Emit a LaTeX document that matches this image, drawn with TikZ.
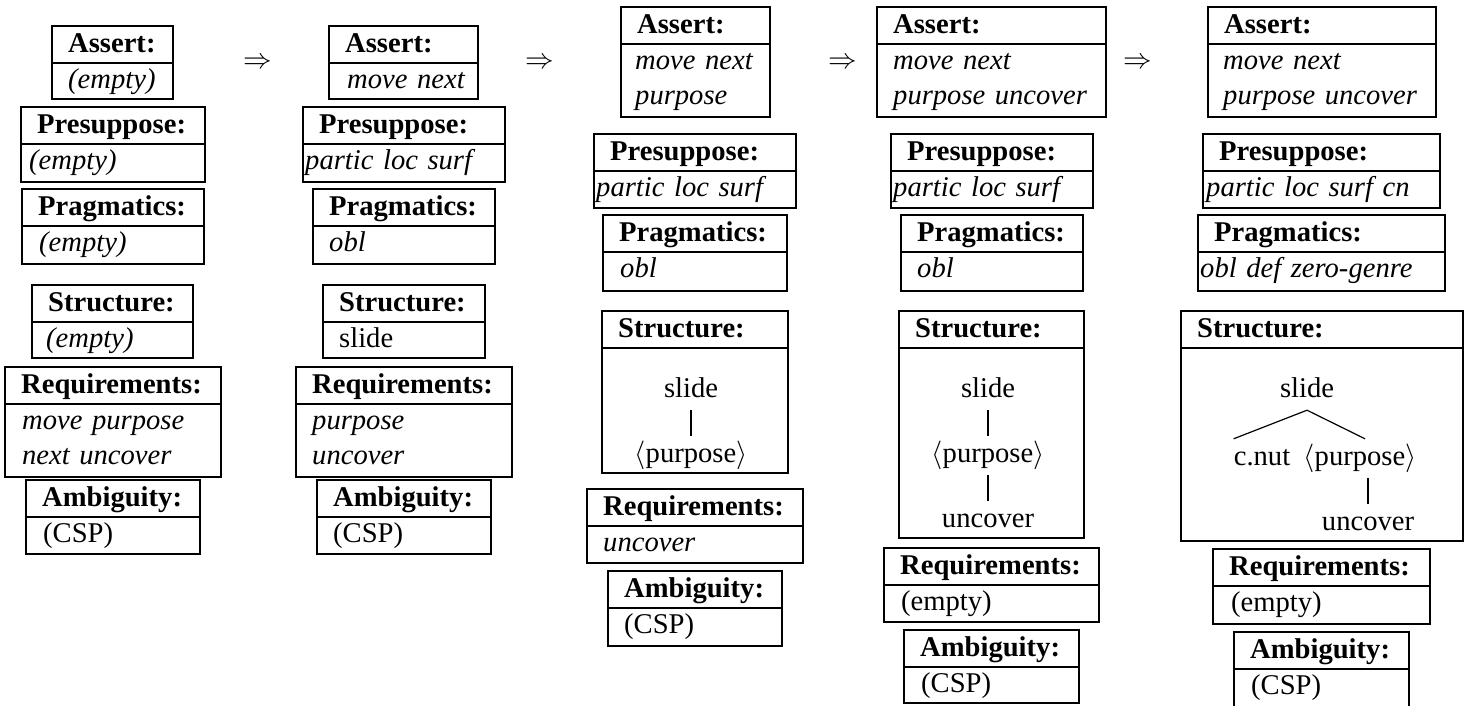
\RequirePackage{fix-cm}
\documentclass[tikz,border=0pt]{standalone}
\usepackage{fontspec}
\setmainfont{Liberation Serif}
\tikzset{
  boxline/.style={line width=2pt},
  headtext/.style={anchor=base west,inner sep=0pt,font=\bfseries},
  bodytext/.style={anchor=base west,inner sep=0pt,text width=240pt,align=left},
  tnode/.style={anchor=base,inner xsep=0pt,inner ysep=6pt,text height=20pt,text depth=7pt},
  tbar/.style={line width=2.8pt},
  tline/.style={line width=1.2pt}
}
\newcommand{\featbox}[8]{%
  \draw[boxline] (#2,#4) rectangle (#3,#5) (#2,#4+37) -- (#3,#4+37);
  \node[headtext] (#1h) at (#2+16,#4+26) {#6};
  \node[bodytext] (#1b) at (#2+#8,#4+62) {#7};
}
\begin{document}
\fontsize{28.6}{35}\selectfont
\begin{tikzpicture}[x=1pt,y=-1pt]
\useasboundingbox (0,0) rectangle (1472,705);
\clip (0,0) rectangle (1472,705);
\foreach \x/\n in {258/1,540/2,843/3,1138/4}
  \node (to\n) at (\x,63) {$\Rightarrow$};
\featbox{aas}{52}{173}{26}{99}{Assert:}{\textit{(empty)}}{16}
\featbox{apr}{21}{205}{107}{182}{Presuppose:}{\textit{(empty)}}{8}
\featbox{apg}{22}{204}{189}{264}{Pragmatics:}{\textit{(empty)}}{17}
\featbox{ast}{32}{193}{285}{358}{Structure:}{\textit{(empty)}}{14}
\featbox{arq}{5}{221}{367}{477}{Requirements:}{\textit{move purpose}\\\textit{next uncover}}{17}
\featbox{aam}{26}{200}{480}{554}{Ambiguity:}{(CSP)}{17}
\featbox{bas}{329}{478}{26}{99}{Assert:}{\textit{move next}}{18}
\featbox{bpr}{303}{505}{107}{182}{Presuppose:}{\textit{partic loc surf}}{2}
\featbox{bpg}{313}{495}{189}{264}{Pragmatics:}{\textit{obl}}{16}
\featbox{bst}{323}{485}{285}{358}{Structure:}{slide}{16}
\featbox{brq}{296}{512}{367}{477}{Requirements:}{\textit{purpose}\\\textit{uncover}}{16}
\featbox{bam}{317}{491}{480}{554}{Ambiguity:}{(CSP)}{16}
\featbox{cas}{621}{770}{7}{117}{Assert:}{\textit{move next}\\\textit{purpose}}{14}
\featbox{cpr}{594}{796}{134}{208}{Presuppose:}{\textit{partic loc surf}}{2}
\featbox{cpg}{603}{787}{215}{291}{Pragmatics:}{\textit{obl}}{17}
\featbox{cst}{602}{788}{311}{473}{Structure:}{}{16}
\featbox{crq}{587}{803}{489}{563}{Requirements:}{\textit{uncover}}{16}
\featbox{cam}{608}{782}{571}{646}{Ambiguity:}{(CSP)}{16}
\featbox{das}{877}{1106}{7}{117}{Assert:}{\textit{move next}\\\textit{purpose uncover}}{16}
\featbox{dpr}{891}{1093}{134}{208}{Presuppose:}{\textit{partic loc surf}}{2}
\featbox{dpg}{901}{1083}{215}{291}{Pragmatics:}{\textit{obl}}{16}
\featbox{dst}{899}{1084}{311}{538}{Structure:}{}{16}
\featbox{drq}{884}{1099}{548}{622}{Requirements:}{(empty)}{17}
\featbox{dam}{904}{1079}{630}{703}{Ambiguity:}{(CSP)}{17}
\featbox{eas}{1208}{1436}{7}{117}{Assert:}{\textit{move next}\\\textit{purpose uncover}}{15}
\featbox{epr}{1203}{1440}{134}{208}{Presuppose:}{\textit{partic loc surf cn}}{3}
\featbox{epg}{1198}{1445}{215}{291}{Pragmatics:}{\textit{obl def zero-genre}}{2}
\featbox{est}{1181}{1463}{311}{541}{Structure:}{}{16}
\featbox{erq}{1213}{1430}{549}{624}{Requirements:}{(empty)}{18}
\featbox{eam}{1234}{1409}{632}{712}{Ambiguity:}{(CSP)}{17}
\node[tnode] (cs) at (691,397) {slide};
\node[tnode] (cp) at (691,462) {$\langle$purpose$\rangle$};
\draw[tbar] (cs) -- (cp);
\node[tnode] (ds) at (988,397) {slide};
\node[tnode] (dp) at (988,462) {$\langle$purpose$\rangle$};
\node[tnode] (du) at (988,527) {uncover};
\draw[tbar] (ds) -- (dp) (dp) -- (du);
\node[tnode] (es) at (1307,397) {slide};
\node[tnode] (ec) at (1262,465) {c.nut};
\node[tnode] (ep) at (1360,465) {$\langle$purpose$\rangle$};
\node[tnode] (eu) at (1368,530) {uncover};
\draw[tline] (ec.north west) -- (es.south) -- ([xshift=5pt]ep.north);
\draw[tbar] (ep.south -| eu.north) -- (eu.north);
\end{tikzpicture}
\end{document}
